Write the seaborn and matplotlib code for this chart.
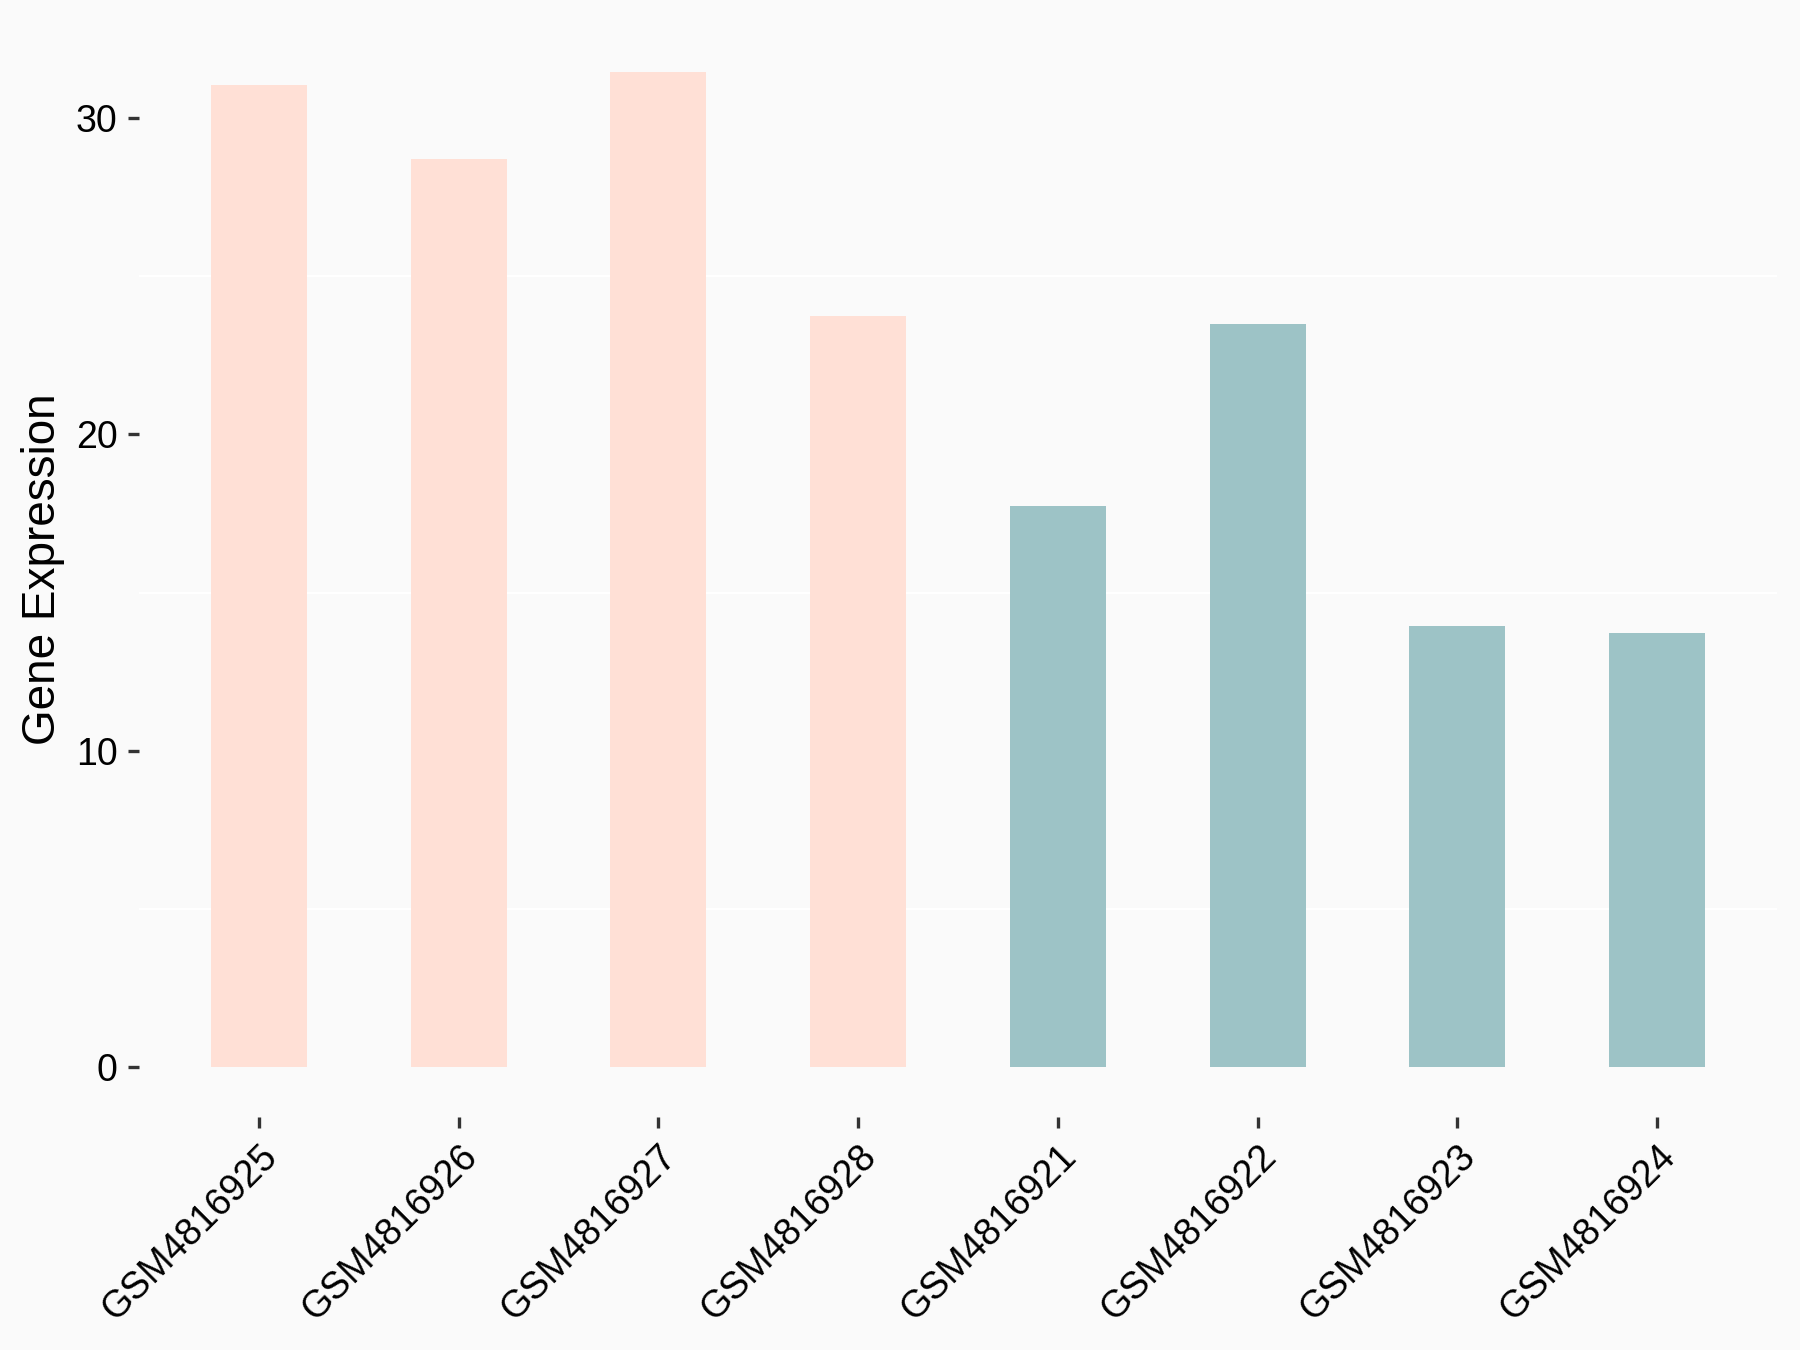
import matplotlib
matplotlib.use("Agg")
import matplotlib.pyplot as plt
import seaborn as sns
import pandas as pd
from matplotlib.ticker import MultipleLocator

samples = ["GSM4816925", "GSM4816926", "GSM4816927", "GSM4816928",
           "GSM4816921", "GSM4816922", "GSM4816923", "GSM4816924"]
expression = [31.05, 28.7, 31.45, 23.73, 17.72, 23.48, 13.95, 13.73]
groups = ["A", "A", "A", "A", "B", "B", "B", "B"]
group_colors = {"A": "#FFE0D6", "B": "#9DC3C6"}

df = pd.DataFrame({"sample": samples, "expr": expression, "group": groups})

sns.set_theme(style="white")
plt.rcParams["font.family"] = ["Liberation Sans", "DejaVu Sans"]

fig = plt.figure(figsize=(12, 9), dpi=150, facecolor="#FAFAFA")
ax = fig.add_axes([0.0772, 0.1726, 0.91, 0.811])
ax.set_facecolor("#FAFAFA")

sns.barplot(data=df, x="sample", y="expr", hue="group", palette=group_colors,
            dodge=False, width=0.48, linewidth=0, saturation=1,
            legend=False, ax=ax, zorder=2)

ymax = max(expression)
ax.set_ylim(-0.05 * ymax, ymax * 1.05)
ax.set_xlim(-0.6, len(samples) - 0.4)
ax.yaxis.set_major_locator(MultipleLocator(10))
ax.yaxis.set_minor_locator(MultipleLocator(5))
ax.grid(False)
ax.grid(which="minor", axis="y", color="white", linewidth=1.0, zorder=0)
ax.set_axisbelow(True)

for s in ax.spines.values():
    s.set_visible(False)

ax.tick_params(axis="both", which="major", direction="out", length=5.3, width=1.6,
               color="#333333", labelsize=18, labelcolor="black", pad=5)
ax.tick_params(axis="both", which="minor", length=0)
ax.tick_params(axis="y", left=True)
ax.tick_params(axis="x", bottom=True)
plt.setp(ax.get_xticklabels(), rotation=45, ha="right", rotation_mode="anchor")

ax.set_xlabel("")
ax.set_ylabel("Gene Expression", fontsize=22, labelpad=5, color="black")

fig.savefig("out.png", dpi=150, facecolor=fig.get_facecolor())
